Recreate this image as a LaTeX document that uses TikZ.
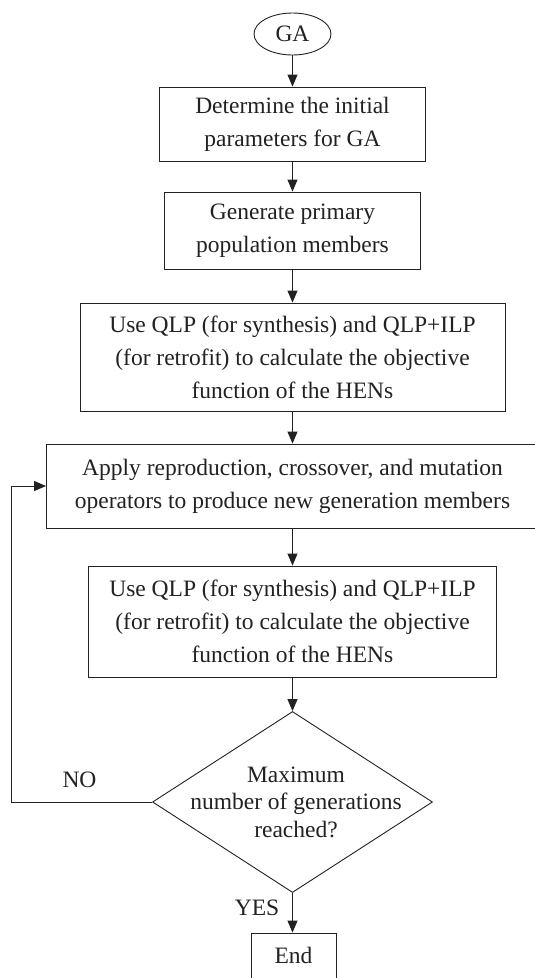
\documentclass[tikz,border=0pt]{standalone}
\usepackage{fontspec}
\setmainfont{Liberation Serif}
\usetikzlibrary{arrows.meta,shapes.geometric}
\definecolor{ink}{HTML}{222222}
\tikzset{
  every node/.style={font=\fontsize{23.5}{33}\selectfont, text=ink},
  box/.style={draw=ink, line width=0.9pt, rectangle, inner sep=0pt, align=center},
  arr/.style={draw=ink, line width=0.9pt, -{Triangle[length=12pt,width=10pt]}},
  lbl/.style={inner sep=0pt}
}
\begin{document}
\begin{tikzpicture}[x=1pt,y=-1pt]
\clip (0,0) rectangle (535,978);
\fill[white] (0,0) rectangle (535,978);
\node[draw=ink, line width=0.9pt, ellipse, inner sep=0pt, minimum width=77pt, minimum height=42pt] (ga) at (292.5,34) {GA};
\node[box, minimum width=266pt, minimum height=74pt] (b1) at (292.5,124) {Determine the initial\\parameters for GA};
\node[box, minimum width=256pt, minimum height=77pt] (b2) at (292.5,230.5) {Generate primary\\population members};
\node[box, minimum width=425pt, minimum height=108pt] (b3) at (292.5,357) {Use QLP (for synthesis) and QLP+ILP\\(for retrofit) to calculate the objective\\function of the HENs};
\node[box, minimum width=492pt, minimum height=84pt] (ap) at (292.5,486) {Apply reproduction, crossover, and mutation\\operators to produce new generation members};
\node[box, minimum width=408pt, minimum height=111pt] (b5) at (292.5,621.5) {Use QLP (for synthesis) and QLP+ILP\\(for retrofit) to calculate the objective\\function of the HENs};
\node[draw=ink, line width=0.9pt, diamond, inner sep=0pt, minimum width=280pt, minimum height=181pt] (dia) at (292.5,802) {};
\node[lbl, align=center, font=\fontsize{23.5}{27.5}\selectfont] (dtxt) at (296,802) {Maximum\\number of generations\\reached?};
\node[box, minimum width=85pt, minimum height=56pt, text depth=11pt] (end) at (293.5,961) {End};
\coordinate (lc) at (11,802);
\node[lbl] (no) at (79.5,779.5) {NO};
\node[lbl] (yes) at (257,908) {YES};
\draw[arr] (ga) -- (b1);
\draw[arr] (b1) -- (b2);
\draw[arr] (b2) -- (b3);
\draw[arr] (b3) -- (ap);
\draw[arr] (ap) -- (b5);
\draw[arr] (b5) -- (dia.north);
\draw[arr] (dia.south) -- (dia.south |- end.north);
\draw[arr] (dia.west) -- (lc) |- (ap.west);
\end{tikzpicture}
\end{document}
